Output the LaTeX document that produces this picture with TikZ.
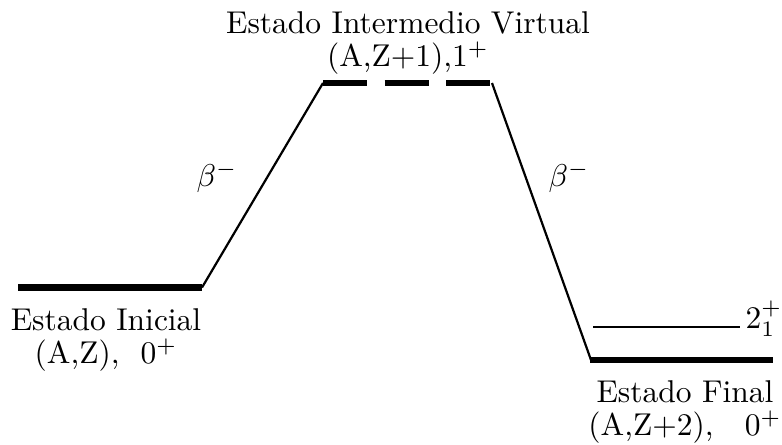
\documentclass[tikz,border=0pt]{standalone}
\usepackage{amsmath}
\usetikzlibrary{positioning,calc}
\tikzset{
  lvl/.style={line width=2.1pt,line cap=butt},
  virt/.style={lvl,dash pattern=on 13.97pt off 5.56pt},
  trans/.style={line width=0.7pt},
  exc/.style={line width=0.5pt},
  lbl/.style={align=center,inner sep=0pt,font=\fontsize{10}{10.5}\selectfont}
}

\begin{document}
\begin{tikzpicture}[x=0.3175pt,y=0.3175pt]
\useasboundingbox (0,0) rectangle (782,444);
% level ends
\coordinate (iniL) at (18,156.5);
\coordinate (iniR) at (202,156.5);
\coordinate (virL) at (323,361);
\coordinate (virR) at (492,361);
\coordinate (finL) at (590,84);
\coordinate (finR) at (773,84);
\coordinate (excL) at (593,117);
\coordinate (excR) at (740,117);
% levels
\draw[lvl] (iniL) -- (iniR);
\draw[virt] (virL) -- (virR);
\draw[lvl] (finL) -- (finR);
\draw[exc] (excL) -- (excR);
% beta transitions
\draw[trans] (iniR) -- (virL);
\draw[trans] (virR) -- ($(finL)+(1,0)$);
% labels
\node[lbl, anchor=north] (virlbl) at (408,433) {Estado Intermedio Virtual\\(A,Z+1),$1^+$};
\node[lbl, anchor=north] (inilbl) at (106,136) {Estado Inicial\\(A,Z), \ $0^+$};
\node[lbl, anchor=north] (finlbl) at (685,64) {Estado Final\\(A,Z+2), \ \ $0^+$};
\node[inner sep=0pt] (betaL) at (217,267) {$\beta^-$};
\node[inner sep=0pt] (betaR) at (569,267) {$\beta^-$};
\node[inner sep=0pt, anchor=base west] (exclbl) at (745,116) {$2^+_1$};
\end{tikzpicture}
\end{document}
